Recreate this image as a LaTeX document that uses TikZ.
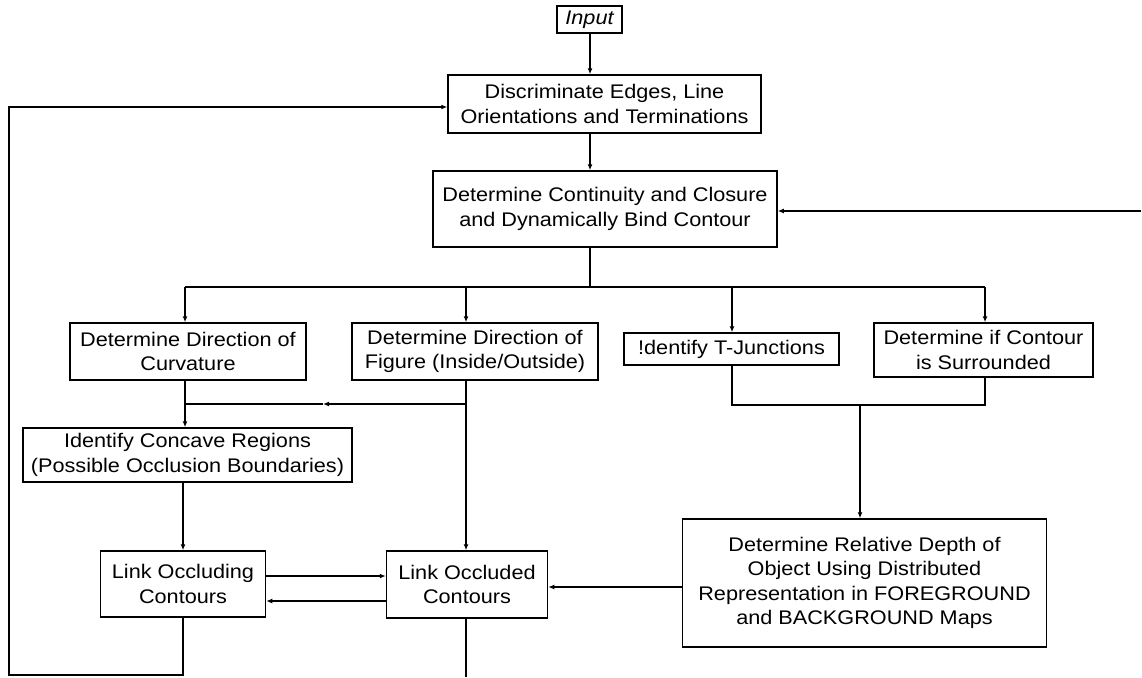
\documentclass[tikz,border=0pt]{standalone}
\usepackage{fontspec}
\setmainfont{Liberation Sans}[FakeStretch=1.1]
\usetikzlibrary{arrows.meta}
\begin{document}
\begin{tikzpicture}[x=1pt,y=-1pt,
  box/.style={draw, line width=1.5pt, inner sep=0pt, align=center,
              font=\fontsize{19.7}{24.5}\selectfont},
  con/.style={line width=1.3pt},
  arr/.style={con, -{Latex[length=6pt,width=5pt]}}]
\useasboundingbox (0,0) rectangle (1142,677);

% nodes
\node[box, minimum width=65, minimum height=27] (in) at (589.5,19.5) {\itshape Input};
\node[box, minimum width=313, minimum height=58] (disc) at (604.5,104)
  {Discriminate Edges, Line\\Orientations and Terminations};
\node[box, minimum width=344, minimum height=76] (cont) at (605,209)
  {Determine Continuity and Closure\\and Dynamically Bind Contour};
\node[box, minimum width=236, minimum height=57] (curv) at (188,351.5)
  {Determine Direction of\\Curvature};
\node[box, minimum width=246, minimum height=57] (fig) at (475,351.5)
  {Determine Direction of\\Figure (Inside/Outside)};
\node[box, minimum width=215, minimum height=32] (tj) at (731.5,349)
  {!dentify T-Junctions};
\node[box, minimum width=219, minimum height=54] (sur) at (983.5,350)
  {Determine if Contour\\is Surrounded};
\node[box, minimum width=329, minimum height=54] (conc) at (187.5,455)
  {Identify Concave Regions\\(Possible Occlusion Boundaries)};
\node[box, minimum width=165, minimum height=66] (occl) at (183,584)
  {Link Occluding\\Contours};
\node[box, minimum width=161, minimum height=67] (occd) at (467,584.5)
  {Link Occluded\\Contours};
\node[box, minimum width=364, minimum height=128] (rd) at (864.5,583)
  {Determine Relative Depth of\\Object Using Distributed\\Representation in FOREGROUND\\and BACKGROUND Maps};

% junction coordinates
\coordinate (b0) at (590,287);
\coordinate (b1) at (185,287);
\coordinate (b2) at (466,287);
\coordinate (b3) at (732,287);
\coordinate (b4) at (985,287);
\coordinate (j1) at (185,404);
\coordinate (j2) at (466,404);
\coordinate (jm) at (323,404);
\coordinate (t1) at (732,405);
\coordinate (t2) at (985,405);
\coordinate (t3) at (860,405);
\coordinate (r1) at (682,587);
\coordinate (u) at (300,576);
\coordinate (l) at (300,601);
\coordinate (f1) at (183,675);
\coordinate (f2) at (9,675);
\coordinate (f3) at (9,107);
\coordinate (rr) at (1141,211);
\coordinate (ob) at (466,677);

% connectors
\draw[arr] (in.south -| b0) -- (b0 |- disc.north);
\draw[arr] (disc.south -| b0) -- (b0 |- cont.north);
\draw[con] (cont.south -| b0) -- (b0);
\draw[con] (b1) -- (b4);
\draw[arr] (b1) -- (b1 |- curv.north);
\draw[arr] (b2) -- (b2 |- fig.north);
\draw[arr] (b3) -- (b3 |- tj.north);
\draw[arr] (b4) -- (b4 |- sur.north);

\draw[arr] (j1 |- curv.south) -- (j1 |- conc.north);
\draw[arr] (j2 |- fig.south) -- (j2 |- occd.north);
\draw[arr] (j2) -- (jm);
\draw[con] (jm) -- (j1);

\draw[con] (tj.south -| t1) -- (t1) -- (t2) -- (sur.south -| t2);
\draw[arr] (t3) -- (t3 |- rd.north);

\draw[arr] (occl.north |- conc.south) -- (occl.north);
\draw[arr] (u -| occl.east) -- (u -| occd.west);
\draw[arr] (l -| occd.west) -- (l -| occl.east);
\draw[arr] (r1) -- (r1 -| occd.east);

\draw[arr] (occl.south) -- (f1) -- (f2) -- (f3) -- (f3 -| disc.west);
\draw[arr] (rr) -- (rr -| cont.east);
\draw[con] (occd.south -| ob) -- (ob);
\end{tikzpicture}
\end{document}
